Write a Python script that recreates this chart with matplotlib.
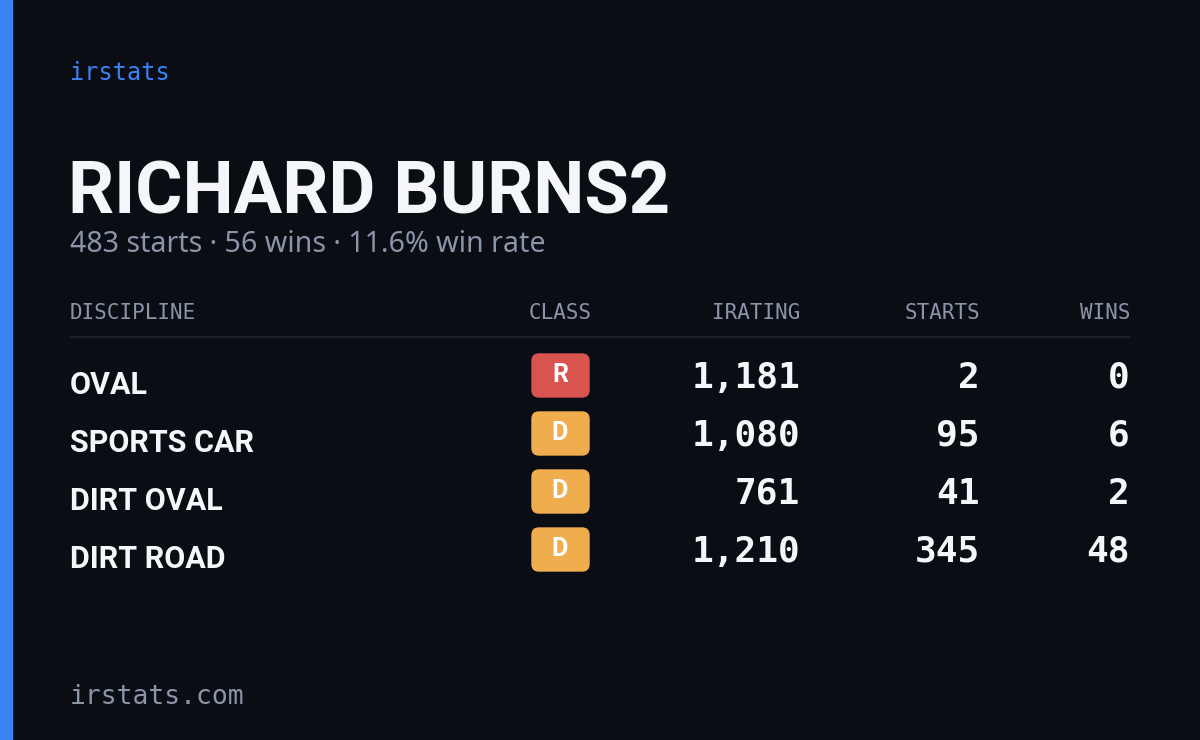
import matplotlib
matplotlib.use('Agg')
import matplotlib.pyplot as plt
from matplotlib.patches import FancyBboxPatch, Rectangle

# Dados do cartão
jogador = 'RICHARD BURNS2'
resumo = '483 starts · 56 wins · 11.6% win rate'
disciplinas = ['OVAL', 'SPORTS CAR', 'DIRT OVAL', 'DIRT ROAD']
classes = ['R', 'D', 'D', 'D']
iratings = [1181, 1080, 761, 1210]
starts = [2, 95, 41, 345]
wins = [0, 6, 2, 48]
cabecalhos = ['DISCIPLINE', 'CLASS', 'IRATING', 'STARTS', 'WINS']

cores_classe = {'R': '#d9534f', 'D': '#f0ad4e'}
fundo = '#0a0d14'
cinza = '#8b95a8'
branco = '#f4f6fa'
azul = '#3b82f6'
condensada = ['Roboto', 'DejaVu Sans']
mono = ['DejaVu Sans Mono']

fig = plt.figure(figsize=(12, 7.4), dpi=100)
fig.patch.set_facecolor(fundo)
ax = fig.add_axes([0, 0, 1, 1])
ax.set_xlim(0, 1200)
ax.set_ylim(740, 0)
ax.axis('off')
ax.set_facecolor(fundo)

ax.add_patch(Rectangle((0, 0), 12, 740, color=azul))

ax.text(70, 73, 'irstats', color=azul, family=mono, fontsize=17, va='center')
ax.text(68, 213, jogador, color=branco, family=condensada, fontsize=52,
        fontweight='bold', va='baseline')
ax.text(70, 245, resumo, color=cinza, family=['Noto Sans', 'DejaVu Sans'],
        fontsize=20.6, va='center')

# Cabeçalho
x_cols = [70, 560, 800, 980, 1130]
alins = ['left', 'center', 'right', 'right', 'right']
for x, h, a in zip(x_cols, cabecalhos, alins):
    ax.text(x, 313, h, color=cinza, family=mono, fontsize=15, ha=a, va='center')
ax.plot([70, 1130], [337, 337], color='#1e2430', lw=1.2)

# Linhas
for i, (d, c, ir, s, w) in enumerate(zip(disciplinas, classes, iratings, starts, wins)):
    y = 378 + i * 58
    ax.text(70, y + 7, d, color=branco, family=condensada, fontsize=22,
            fontweight='bold', va='center')
    ax.add_patch(FancyBboxPatch((532, y - 24), 57, 43,
                                boxstyle='round,pad=0,rounding_size=7',
                                color=cores_classe[c]))
    ax.text(560, y - 3, c, color='white', family=['Roboto', 'DejaVu Sans'], fontsize=18,
            fontweight='bold', ha='center', va='center')
    for x, v in zip(x_cols[2:], [ir, s, w]):
        ax.text(x, y, f'{v:,}', color=branco, family=mono, fontsize=26,
                fontweight='bold', ha='right', va='center')

ax.text(70, 697, 'irstats.com', color=cinza, family=mono, fontsize=19, va='center')

fig.savefig('out.png', dpi=100, facecolor=fundo)
